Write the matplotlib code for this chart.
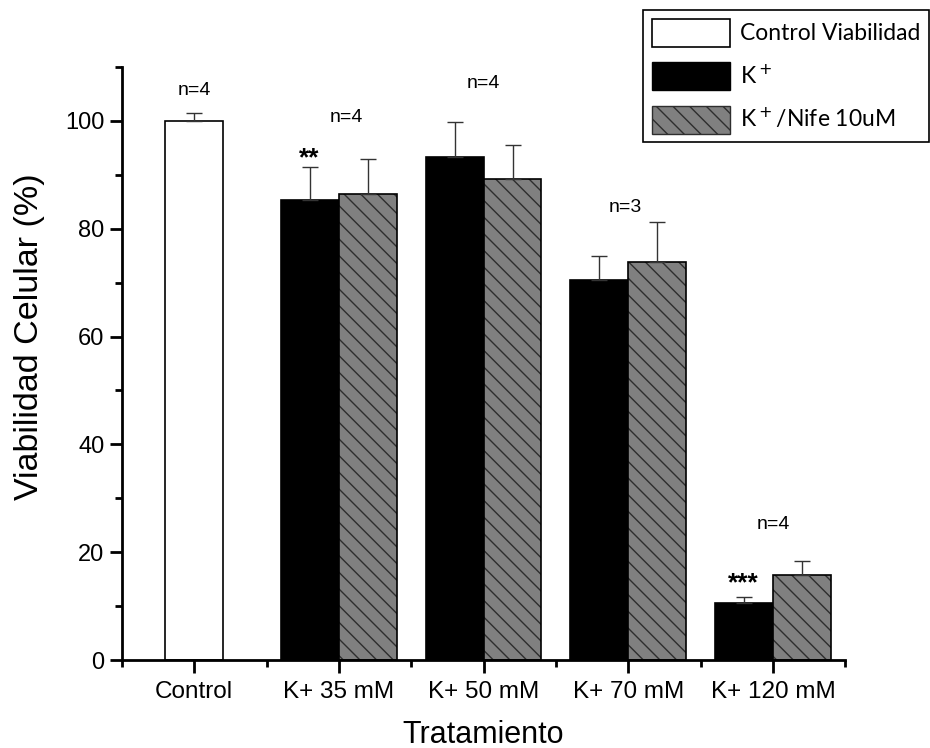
import matplotlib
matplotlib.use("Agg")
import matplotlib.pyplot as plt
import numpy as np
from matplotlib.patches import Patch
from matplotlib.ticker import MultipleLocator, FixedLocator

categories = ["Control", "K+ 35 mM", "K+ 50 mM", "K+ 70 mM", "K+ 120 mM"]
control_val = [100.0]
control_err = [1.5]
k_vals = [85.3, 93.3, 70.5, 10.6]
k_errs = [6.2, 6.5, 4.5, 1.1]
nife_vals = [86.5, 89.2, 73.8, 15.8]
nife_errs = [6.5, 6.3, 7.5, 2.6]
n_labels = ["n=4", "n=4", "n=4", "n=3", "n=4"]
n_y = [105.6, 100.7, 107.0, 83.9, 25.2]
n_x_off = [0.0, 0.05, 0.0, -0.02, 0.0]
sig_labels = ["**", "***"]
sig_idx = [1, 4]
sig_y = [93.0, 14.3]

plt.rcParams['font.family'] = ['Liberation Sans', 'DejaVu Sans']
plt.rcParams['hatch.linewidth'] = 1.0

fig = plt.figure(figsize=(9.3, 7.48), dpi=100)
ax = fig.add_axes([0.131, 0.1176, 0.778, 0.7928])

w = 0.4
x = np.arange(len(categories))
errkw = dict(ecolor='#333333', elinewidth=1.0, capsize=6, capthick=1.0)

ax.bar(x[0], control_val[0], width=w, color='white', edgecolor='black', linewidth=1.2,
       yerr=[[0], control_err], error_kw=errkw, zorder=2)
kx = x[1:] - w / 2
nx = x[1:] + w / 2
ax.bar(kx, k_vals, width=w, color='black', edgecolor='black', linewidth=1.2,
       yerr=[np.zeros(4), k_errs], error_kw=errkw, zorder=2)
ax.bar(nx, nife_vals, width=w, color='#808080', edgecolor='#2e2e2e', linewidth=0,
       hatch='\\\\', zorder=2)
ax.bar(nx, nife_vals, width=w, color='none', edgecolor='black', linewidth=1.2,
       yerr=[np.zeros(4), nife_errs], error_kw=errkw, zorder=3)

ax.set_xlim(-0.5, 4.5)
ax.set_ylim(0, 110)
ax.spines['top'].set_visible(False)
ax.spines['right'].set_visible(False)
ax.spines['left'].set_linewidth(2)
ax.spines['bottom'].set_linewidth(2)

ax.set_xticks(x)
ax.set_xticklabels(categories)
ax.xaxis.set_minor_locator(FixedLocator(np.arange(-0.5, 4.6, 1.0)))
ax.yaxis.set_major_locator(FixedLocator([0, 20, 40, 60, 80, 100]))
ax.yaxis.set_minor_locator(MultipleLocator(10))
ax.tick_params(axis='both', which='major', direction='out', width=2, length=9)
ax.tick_params(axis='x', which='major', pad=6, labelsize=17.5)
ax.tick_params(axis='y', which='major', labelsize=17)
ax.tick_params(axis='both', which='minor', direction='out', width=2, length=5)

ax.set_ylabel("Viabilidad Celular (%)", fontsize=24.5)
ax.yaxis.set_label_coords(-0.106, 0.546)
ax.set_xlabel("Tratamiento", fontsize=22, labelpad=12)

for i, (lab, yy) in enumerate(zip(n_labels, n_y)):
    xx = x[i] + n_x_off[i]
    ax.text(xx, yy, lab, ha='center', va='center', fontsize=14)
for lab, i, yy in zip(sig_labels, sig_idx, sig_y):
    ax.text(x[i] - w / 2 - 0.005, yy, lab, ha='center', va='center', fontsize=19, fontweight='bold')

handles = [Patch(facecolor='white', edgecolor='black', linewidth=1.2),
           Patch(facecolor='black', edgecolor='black'),
           Patch(facecolor='#808080', edgecolor='#2e2e2e', hatch='\\\\', linewidth=1.0)]
labels = ["Control Viabilidad", r"K$^+$", r"K$^+$/Nife 10uM"]
leg = fig.legend(handles, labels, loc='upper left', bbox_to_anchor=(643 / 930, 1 - 10 / 748),
                 borderaxespad=0, frameon=True, fancybox=False, edgecolor='black', framealpha=1,
                 handlelength=3.4, handleheight=1.5, handletextpad=0.45, labelspacing=0.68,
                 borderpad=0.38, prop={'family': ['Lato', 'DejaVu Sans'], 'size': 16.5})
leg.get_frame().set_linewidth(1.2)

fig.savefig("out.png", dpi=100)
